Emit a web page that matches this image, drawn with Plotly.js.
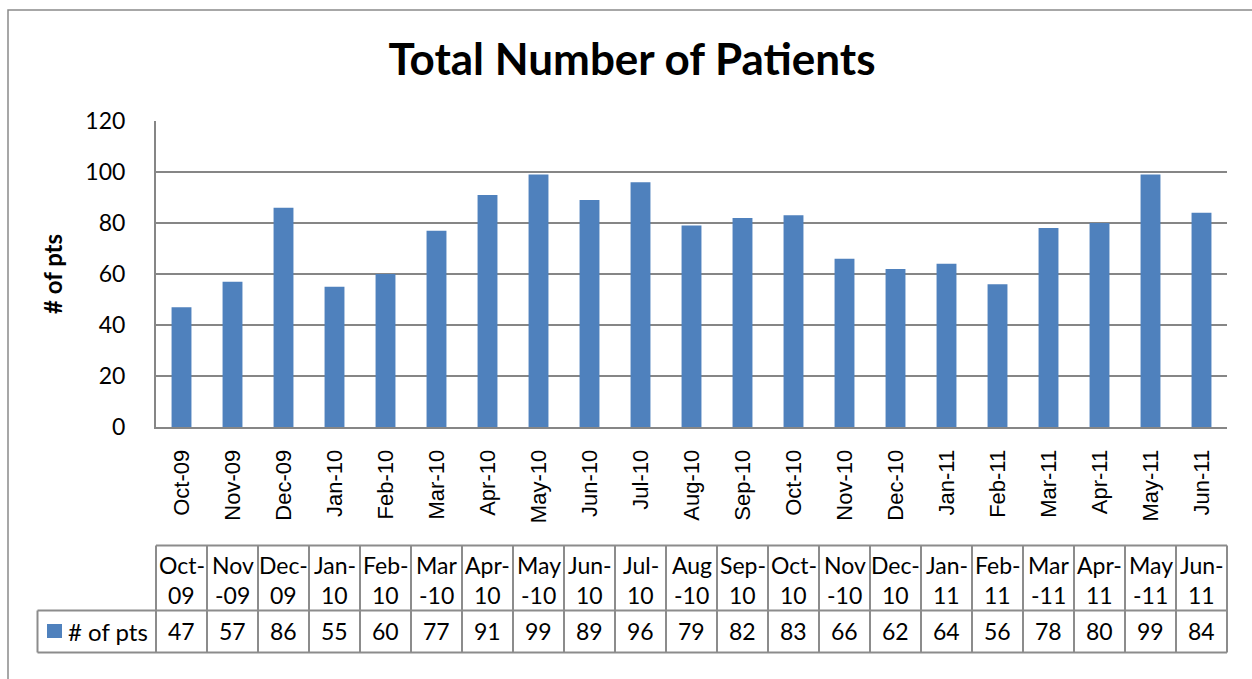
<!DOCTYPE html>
<html>
<head>
<meta charset="utf-8">
<script src="https://cdn.plot.ly/plotly-3.0.1.min.js"></script>
<style>html,body{margin:0;padding:0;background:#fff;}#chart{width:1252px;height:679px;}</style>
</head>
<body>
<div id="chart"></div>
<script>
// ---- data ----
const categories = ['Oct-09','Nov-09','Dec-09','Jan-10','Feb-10','Mar-10','Apr-10','May-10','Jun-10','Jul-10','Aug-10','Sep-10','Oct-10','Nov-10','Dec-10','Jan-11','Feb-11','Mar-11','Apr-11','May-11','Jun-11'];
const patients = [47,57,86,55,60,77,91,99,89,96,79,82,83,66,62,64,56,78,80,99,84];
const headerLine1 = ['Oct-','Nov','Dec-','Jan-','Feb-','Mar','Apr-','May','Jun-','Jul-','Aug','Sep-','Oct-','Nov','Dec-','Jan-','Feb-','Mar','Apr-','May','Jun-'];
const headerLine2 = ['09','-09','09','10','10','-10','10','-10','10','10','-10','10','10','-10','10','11','11','-11','11','-11','11'];
const seriesName = '# of pts';
const yTicks = [0,20,40,60,80,100,120];

// ---- layout geometry (pixels) ----
const W = 1252, H = 679;
const L = 156, R = 1227, T = 121, B = 427;
const pw = R - L, ph = B - T;
const px2x = p => (p - L) / pw;
const px2y = p => (B - p) / ph;
const n = categories.length;
const colEdge = i => i / n;         // paper x of column boundary
const colMid = i => (i + 0.5) / n;  // paper x of column centre

const barColor = '#4F81BD';
const gridColor = '#868686';
const tableColor = '#8C8C8C';
const calibri = 'Lato, "Open Sans", sans-serif';

const trace = {
  type: 'bar',
  x: categories,
  y: patients,
  name: seriesName,
  marker: {color: barColor, line: {width: 0}},
  hoverinfo: 'x+y'
};

const shapes = [];
const annotations = [];

// outer chart border
shapes.push({type: 'rect', xref: 'paper', yref: 'paper',
  x0: px2x(8), x1: px2x(1262), y0: px2y(10), y1: px2y(700),
  line: {color: '#8A8A8A', width: 1.5}, fillcolor: 'rgba(0,0,0,0)', layer: 'below'});

// table lines
const tTop = 545.5, tMid = 610.5, tBot = 652.5, tLeft = 37.5;
const hline = (x0, x1, yp) => shapes.push({type: 'line', xref: 'paper', yref: 'paper',
  x0: x0, x1: x1, y0: px2y(yp), y1: px2y(yp), line: {color: tableColor, width: 2}});
const vline = (xp, y0, y1) => shapes.push({type: 'line', xref: 'paper', yref: 'paper',
  x0: xp, x1: xp, y0: px2y(y0), y1: px2y(y1), line: {color: tableColor, width: 2}});
hline(colEdge(0), colEdge(n), tTop);
hline(px2x(tLeft), colEdge(n), tMid);
hline(px2x(tLeft), colEdge(n), tBot);
vline(px2x(tLeft), tMid, tBot);
for (let i = 0; i <= n; i++) vline(colEdge(i), tTop, tBot);

// legend key in table
shapes.push({type: 'rect', xref: 'paper', yref: 'paper',
  x0: px2x(47), x1: px2x(62), y0: px2y(638), y1: px2y(624),
  fillcolor: barColor, line: {width: 0}});
annotations.push({xref: 'paper', yref: 'paper', x: px2x(66), y: px2y(631),
  xanchor: 'left', yanchor: 'middle', text: seriesName, showarrow: false,
  font: {family: calibri, size: 24, color: '#000'}});

const cellFont = {family: calibri, size: 23, color: '#000'};
for (let i = 0; i < n; i++) {
  annotations.push({xref: 'paper', yref: 'paper', x: colMid(i), y: px2y(565),
    xanchor: 'center', yanchor: 'middle', text: headerLine1[i], showarrow: false, font: cellFont});
  annotations.push({xref: 'paper', yref: 'paper', x: colMid(i), y: px2y(595),
    xanchor: 'center', yanchor: 'middle', text: headerLine2[i], showarrow: false, font: cellFont});
  annotations.push({xref: 'paper', yref: 'paper', x: colMid(i), y: px2y(631),
    xanchor: 'center', yanchor: 'middle', text: String(patients[i]), showarrow: false, font: cellFont});
}

const layout = {
  width: W, height: H,
  margin: {l: L, r: W - R, t: T, b: H - B, pad: 0},
  paper_bgcolor: '#fff', plot_bgcolor: '#fff',
  showlegend: false,
  bargap: 0.61,
  title: {text: '<b>Total Number of Patients</b>', xref: 'container', yref: 'container',
    x: 632 / W, y: 1 - 60 / H, xanchor: 'center', yanchor: 'middle',
    font: {family: calibri, size: 44, color: '#000'}},
  xaxis: {
    type: 'category', range: [-0.5, n - 0.5],
    showline: true, linecolor: gridColor, linewidth: 2,
    showgrid: false, ticks: '', tickangle: -90,
    ticklabelstandoff: 12,
    tickfont: {family: '"Liberation Sans", Arial, sans-serif', size: 22, color: '#000'},
    fixedrange: true
  },
  yaxis: {
    range: [0, 120], tickvals: yTicks, ticktext: yTicks.map(String),
    showline: true, linecolor: gridColor, linewidth: 2,
    showgrid: true, gridcolor: gridColor, gridwidth: 1.5,
    zeroline: false, ticks: '', ticklabelstandoff: 24,
    tickfont: {family: calibri, size: 23, color: '#000'},
    title: {text: '<b># of pts</b>', standoff: 16, font: {family: calibri, size: 24, color: '#000'}},
    fixedrange: true
  },
  shapes: shapes,
  annotations: annotations
};

Plotly.newPlot('chart', [trace], layout, {displayModeBar: false, staticPlot: true});
</script>
</body>
</html>
